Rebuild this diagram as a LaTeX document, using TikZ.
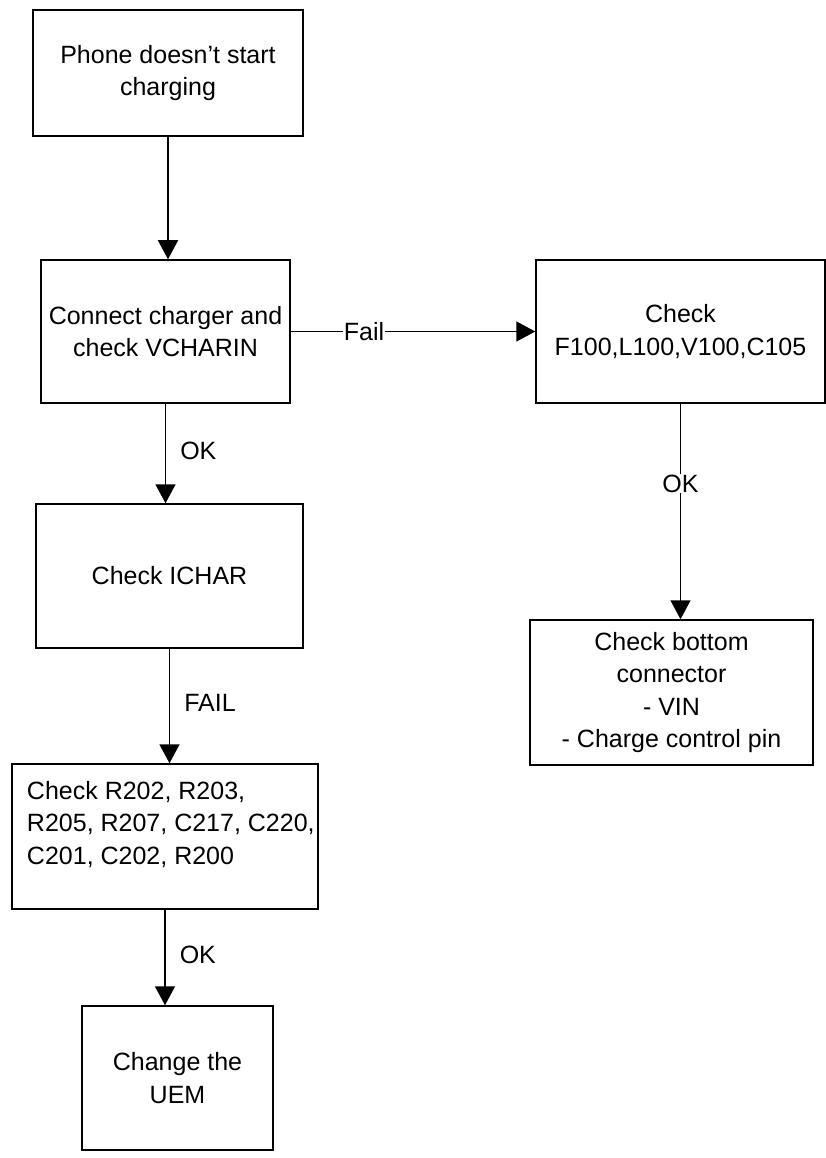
\documentclass[tikz,border=0pt]{standalone}
\usepackage{fontspec}
\setmainfont{Liberation Sans}
\usetikzlibrary{arrows.meta}
\begin{document}
\begin{tikzpicture}[x=1pt, y=-1pt, line width=1.5pt, font=\fontsize{25}{32.5}\selectfont, >={Triangle[length=19pt,width=20pt]},
  box/.style={draw, align=center, inner sep=2pt},
  lbl/.style={anchor=west, inner sep=0pt, xshift=14pt}]
\useasboundingbox (0,0) rectangle (826,1158);
\node[box, minimum width=270, minimum height=126] (start) at (168,73) {Phone doesn't start\\charging};
\node[box, minimum width=249, minimum height=143] (vchar) at (165.5,331.5) {Connect charger and\\check VCHARIN};
\node[box, minimum width=289, minimum height=143] (fuse) at (680.5,331.5) {Check\\F100,L100,V100,C105};
\node[box, minimum width=267, minimum height=144] (ichar) at (169.5,576) {Check ICHAR};
\node[box, minimum width=283, minimum height=145] (conn) at (671.5,692.5) {Check bottom\\connector\\- VIN\\- Charge control pin};
\node[box, minimum width=306, minimum height=145] (parts) at (165,836.5) {};
\node[anchor=north west, align=left, inner sep=0pt] (partstxt) at ([xshift=15pt,yshift=-17pt]parts.north west) {Check R202, R203,\\R205, R207, C217, C220,\\C201, C202, R200};
\node[box, minimum width=191, minimum height=144] (uem) at (177.5,1078) {Change the\\UEM};
\draw[->] (start.south) -- (start.south |- vchar.north);
\draw[->] (vchar.east) -- node[pos=0.3, fill=white, inner sep=1pt] (fail) {Fail} (vchar.east -| fuse.west);
\draw[->] (fuse.south) -- node[pos=0.37, fill=white, inner sep=1pt] (okright) {OK} (fuse.south |- conn.north);
\foreach \a/\b/\t in {vchar/ichar/OK, ichar/parts/FAIL, parts/uem/OK}
  \draw[->] (\a.south) -- node[lbl, pos=0.47] (lbl\a) {\t} (\a.south |- \b.north);
\end{tikzpicture}
\end{document}
